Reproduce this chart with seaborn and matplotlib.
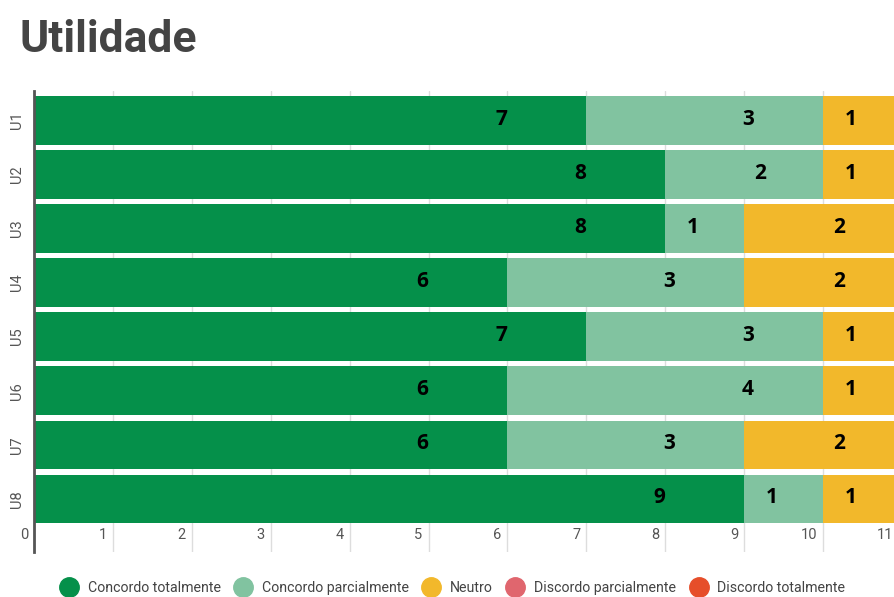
import matplotlib.pyplot as plt
import numpy as np
import pandas as pd
import seaborn as sns
from matplotlib.lines import Line2D
from matplotlib.transforms import ScaledTranslation

# data
items = ["U1", "U2", "U3", "U4", "U5", "U6", "U7", "U8"]
concordo_total = [7, 8, 8, 6, 7, 6, 6, 9]
concordo_parcial = [3, 2, 1, 3, 3, 4, 3, 1]
neutro = [1, 1, 2, 2, 1, 1, 2, 1]
discordo_parcial = [0, 0, 0, 0, 0, 0, 0, 0]
discordo_total = [0, 0, 0, 0, 0, 0, 0, 0]
x_ticks = list(range(0, 12))

series_names = [
    "Concordo totalmente",
    "Concordo parcialmente",
    "Neutro",
    "Discordo parcialmente",
    "Discordo totalmente",
]
colors = ["#05904A", "#81C3A0", "#F2B82B", "#E0666E", "#E64E2A"]

df = pd.DataFrame(
    {
        "item": items,
        "ct": concordo_total,
        "cp": concordo_parcial,
        "ne": neutro,
        "dp": discordo_parcial,
        "dt": discordo_total,
    }
)
df["cum1"] = df["ct"]
df["cum2"] = df["cum1"] + df["cp"]
df["cum3"] = df["cum2"] + df["ne"]
df["cum4"] = df["cum3"] + df["dp"]
df["cum5"] = df["cum4"] + df["dt"]

sns.set_theme(style="white")
plt.rcParams["font.family"] = ["Roboto", "DejaVu Sans"]

fig = plt.figure(figsize=(8.95, 5.97), dpi=100)
# the plot area runs a few pixels past the right edge, as in the original
ax = fig.add_axes([34 / 895, 1 - 552 / 597, 11 * 78.9 / 895, (552 - 91) / 597])

# stacked bars: draw cumulative totals from widest to narrowest
for col, color in zip(["cum5", "cum4", "cum3", "cum2", "cum1"], colors[::-1]):
    sns.barplot(data=df, x=col, y="item", color=color, width=0.9,
                saturation=1, orient="h", ax=ax, zorder=2, linewidth=0)

ax.set_xlabel("")
ax.set_ylabel("")

# vertical gridlines behind bars
ax.set_xticks(x_ticks)
ax.set_xlim(0, 11)
ax.set_ylim(7.98, -0.54)
ax.grid(axis="x", color="#dddddd", linewidth=1, zorder=0)
ax.set_axisbelow(True)
ax.tick_params(axis="x", length=0, pad=-17, labelsize=10.5, labelcolor="#555555")
shift = ScaledTranslation(-6 / 100, 0, fig.dpi_scale_trans)
last_shift = ScaledTranslation(-9 / 100, 0, fig.dpi_scale_trans)
xlabels = ax.get_xticklabels()
for n, lbl in enumerate(xlabels):
    lbl.set_horizontalalignment("right")
    extra = last_shift if n == len(xlabels) - 1 else shift
    lbl.set_transform(lbl.get_transform() + extra)

ax.tick_params(axis="y", length=0, pad=7, labelsize=10.5, labelcolor="#555555")
for lbl in ax.get_yticklabels():
    lbl.set_rotation(90)
    lbl.set_verticalalignment("center")

for side in ["top", "right", "bottom"]:
    ax.spines[side].set_visible(False)
ax.spines["left"].set_color("#555555")
ax.spines["left"].set_linewidth(2)

# value labels, placed a little left of each segment's end
for i, row in df.iterrows():
    for val_col, cum_col in [("ct", "cum1"), ("cp", "cum2"), ("ne", "cum3")]:
        v = row[val_col]
        if v > 0:
            off = min(0.5 + 0.15 * v, 0.95) if val_col != "ct" else 1.08
            ax.text(row[cum_col] - off, i - 0.02, str(v), ha="center", va="center",
                    fontsize=15, fontweight="bold", color="black",
                    family=["Open Sans", "DejaVu Sans"], zorder=5)

fig.text(20 / 895, 1 - 40 / 597, "Utilidade", fontsize=32, fontweight="bold",
         color="#444444", ha="left", va="center")

handles = [
    Line2D([], [], marker="o", linestyle="", markersize=14, markerfacecolor=c,
           markeredgecolor=c)
    for c in colors
]
fig.legend(handles, series_names, loc="center", ncol=5, frameon=False,
           bbox_to_anchor=(0.506, 1 - 588 / 597), fontsize=10.2,
           labelcolor="#444444", handletextpad=0.7, columnspacing=1.0,
           handlelength=1.2)

fig.savefig("out.png", dpi=100)
